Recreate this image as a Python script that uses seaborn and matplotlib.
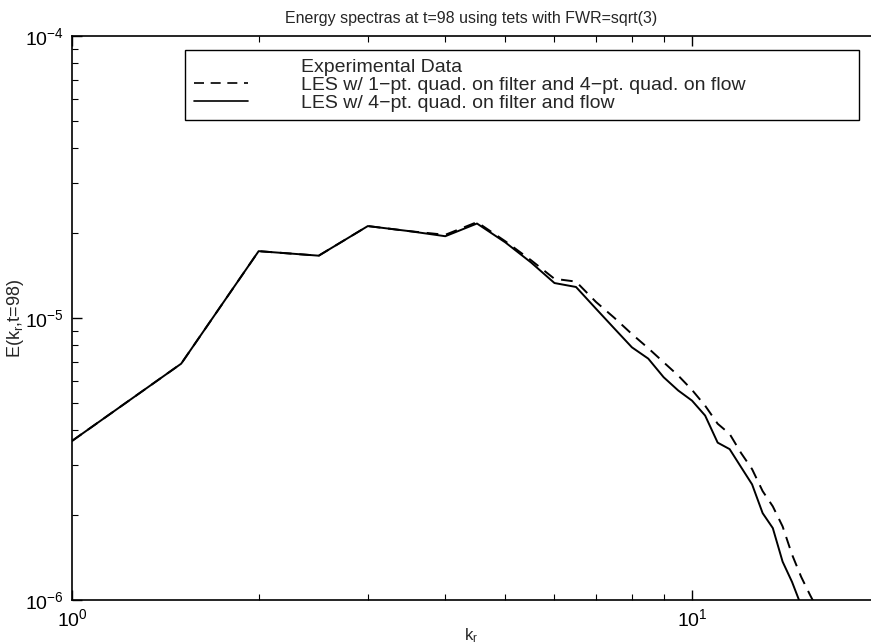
import numpy as np
import pandas as pd
import matplotlib
matplotlib.use("Agg")
import matplotlib.pyplot as plt
from matplotlib.lines import Line2D
from matplotlib.ticker import LogLocator, NullFormatter
import seaborn as sns

# ---- data ----
k_r = [1.0, 1.5, 2.0, 2.5, 3.0, 3.5, 4.0, 4.5, 5.0, 5.5, 6.0, 6.5, 7.0, 7.5,
       8.0, 8.5, 9.0, 9.5, 10.0, 10.5, 11.0, 11.5, 12.0, 12.5, 13.0, 13.5,
       14.0, 14.5, 15.0, 15.5, 16.0]

# log10 of E(k_r, t=98)
log_E_4pt = [-5.436, -5.162, -4.763, -4.779, -4.674, -4.692, -4.710, -4.665,
             -4.732, -4.803, -4.876, -4.890, -4.967, -5.038, -5.104, -5.144,
             -5.210, -5.257, -5.293, -5.346, -5.442, -5.465, -5.529, -5.590,
             -5.692, -5.745, -5.864, -5.936, -6.020, -6.100, -6.180]

log_E_1pt = [-5.436, -5.162, -4.763, -4.779, -4.674, -4.692, -4.705, -4.660,
             -4.728, -4.795, -4.861, -4.871, -4.943, -5.000, -5.057, -5.107,
             -5.157, -5.204, -5.255, -5.311, -5.375, -5.411, -5.479, -5.536,
             -5.614, -5.668, -5.739, -5.839, -5.918, -5.982, -6.040]

legend_labels = ["Experimental Data",
                 "LES w/ 1\u2212pt. quad. on filter and 4\u2212pt. quad. on flow",
                 "LES w/ 4\u2212pt. quad. on filter and flow"]

title = "Energy spectras at t=98 using tets with FWR=sqrt(3)"

df = pd.DataFrame({
    "k": k_r * 2,
    "E": list(10 ** np.array(log_E_1pt)) + list(10 ** np.array(log_E_4pt)),
    "run": [legend_labels[1]] * len(k_r) + [legend_labels[2]] * len(k_r),
})

sns.set_theme(style="white")
plt.rcParams["font.family"] = ["Liberation Sans", "DejaVu Sans"]
plt.rcParams["mathtext.fontset"] = "custom"
plt.rcParams["mathtext.rm"] = "Liberation Sans"
plt.rcParams["mathtext.it"] = "Liberation Sans"
plt.rcParams["mathtext.default"] = "regular"

W, H = 871, 644
fig = plt.figure(figsize=(W / 100, H / 100), dpi=100)
left, right, top, bottom = 72, 871, 36, 600
ax = fig.add_axes([left / W, 1 - bottom / H, (right - left) / W, (bottom - top) / H])

sns.lineplot(data=df, x="k", y="E", hue="run", style="run",
             palette=["black", "black"],
             dashes={legend_labels[1]: (6, 4), legend_labels[2]: ""},
             linewidth=1.4, ax=ax, legend=False, sort=False)

ax.set_xscale("log")
ax.set_yscale("log")
ax.set_xlim(1, 10 ** ((right - left) / 620))
ax.set_ylim(1e-6, 1e-4)

ax.xaxis.set_major_locator(LogLocator(base=10, numticks=10))
ax.xaxis.set_minor_locator(LogLocator(base=10, subs=np.arange(2, 10), numticks=20))
ax.xaxis.set_minor_formatter(NullFormatter())
ax.yaxis.set_major_locator(LogLocator(base=10, numticks=10))
ax.yaxis.set_minor_locator(LogLocator(base=10, subs=np.arange(2, 10), numticks=20))
ax.yaxis.set_minor_formatter(NullFormatter())

ax.tick_params(which="both", direction="in", top=True, right=False,
               bottom=True, left=True, colors="black", labelsize=14)
ax.tick_params(axis="x", which="major", pad=6)
ax.tick_params(axis="y", which="major", pad=6)
ax.tick_params(which="major", length=7, width=1)
ax.tick_params(which="minor", length=4, width=0.8)

for s in ["left", "bottom", "top"]:
    ax.spines[s].set_color("black")
    ax.spines[s].set_linewidth(1.2)
ax.spines["right"].set_visible(False)

ax.set_xlabel("k$_r$", fontsize=12, labelpad=-3)
ax.set_ylabel("E(k$_r$,t=98)", fontsize=13, labelpad=-1)
ax.set_title(title, fontsize=11.5, pad=9)

handles = [Line2D([], [], color="none"),
           Line2D([], [], color="black", lw=1.2, dashes=(6, 4)),
           Line2D([], [], color="black", lw=1.2)]
ax_w = right - left
ax_h = bottom - top
leg = ax.legend(handles, legend_labels, loc="upper left",
                bbox_to_anchor=((185 - left) / ax_w, 1 - (134 - top) / ax_h,
                                (859 - 185) / ax_w, (134 - 50) / ax_h),
                mode="expand", fontsize=14, handlelength=2.8, handletextpad=2.7,
                labelspacing=0.0, borderpad=0.45, fancybox=False, frameon=True,
                framealpha=1, edgecolor="black", borderaxespad=0)
leg.get_frame().set_linewidth(1.0)

fig.savefig("out.png", dpi=100)
